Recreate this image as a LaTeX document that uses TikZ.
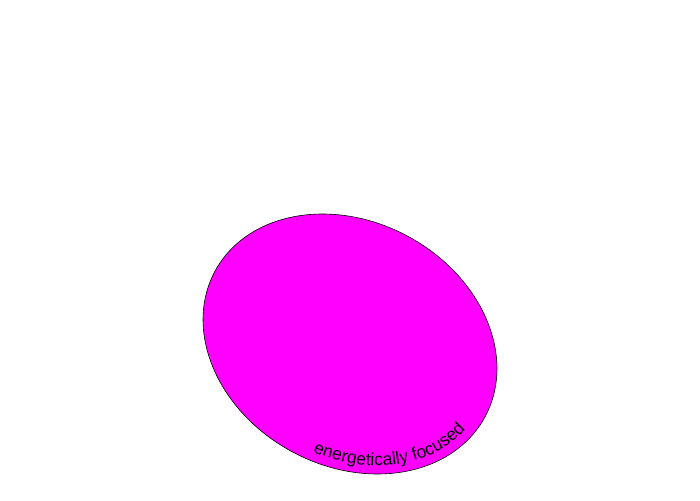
\documentclass[tikz,border=0pt]{standalone}
\usepackage{fontspec}
\setmainfont{Liberation Sans}
\usetikzlibrary{decorations.text}
\definecolor{pinkfill}{RGB}{255,0,255}
\tikzset{
  blob/.style={draw=black, line width=0.6pt, fill=pinkfill},
  curvedlabel/.style={decoration={text along path, text align=left,
      text={|\fontsize{17.5}{18}\selectfont|energetically focused}}, decorate}
}
\begin{document}
\begin{tikzpicture}[x=1pt,y=1pt]
\useasboundingbox (0,0) rectangle (700,500);
\coordinate (c) at (350,156);
\draw[blob, rotate around={-28.4:(c)}] (c) ellipse [x radius=153.4, y radius=122.3];
\path[curvedlabel, rotate around={-28.4:(c)}] (c) ++(-82.5:144.5 and 114) arc[start angle=-82.5, end angle=-2, x radius=144.5, y radius=114];
\end{tikzpicture}
\end{document}
